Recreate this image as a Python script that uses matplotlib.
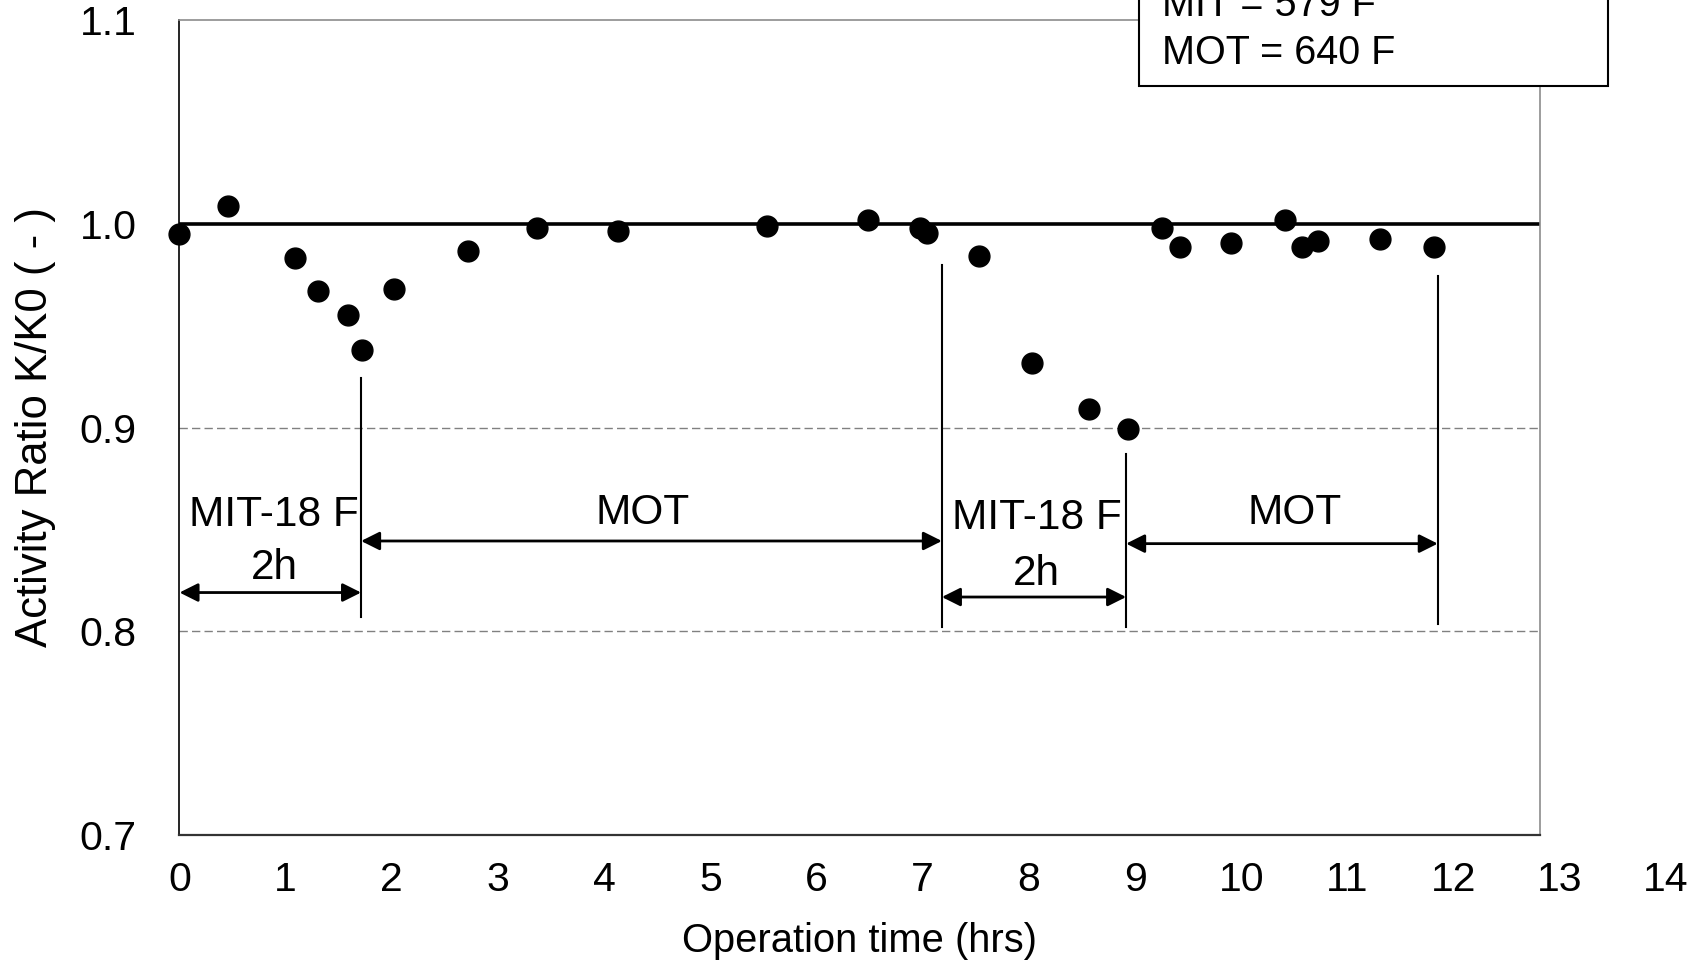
import matplotlib.pyplot as plt
from matplotlib.patches import Rectangle

plt.rcParams.update(
    {
        "font.family": "Liberation Sans",
        "font.size": 29.5,
    }
)

# Measured activity ratio vs. operation time
time_hrs = [0.0, 0.46, 1.09, 1.30, 1.59, 1.72, 2.02, 2.72, 3.37, 4.13, 5.53,
            6.48, 6.97, 7.04, 7.53, 8.03, 8.57, 8.935, 9.255, 9.42, 9.90,
            10.41, 10.57, 10.72, 11.31, 11.81]
activity = [0.995, 1.0087, 0.9833, 0.967, 0.955, 0.938, 0.968, 0.9866, 0.9977,
            0.9966, 0.9987, 1.0018, 0.9977, 0.9954, 0.9843, 0.9317, 0.9093,
            0.8994, 0.9977, 0.9884, 0.9905, 1.0018, 0.9884, 0.9915, 0.9925,
            0.9884]

# Phase boundaries (x, y_top, y_bottom)
bound_x = [1.71, 7.18, 8.915, 11.85]
bound_top = [0.9245, 0.9798, 0.8871, 0.9745]
bound_bottom = [0.807, 0.8021, 0.802, 0.8034]

# Phase spans: (start, end, arrow y, label, label y)
span_start = [0.0, 1.71, 7.18, 8.915]
span_end = [1.71, 7.18, 8.915, 11.85]
span_arrow_y = [0.819, 0.8443, 0.8168, 0.843]
span_label = ["MIT-18 F", "MOT", "MIT-18 F", "MOT"]
span_label_x = [0.89, 4.36, 8.07, 10.50]
span_label_y = [0.857, 0.858, 0.8556, 0.858]
dur_label_x = [0.89, 8.07]
dur_label_y = [0.8308, 0.8283]

x_ticks = list(range(0, 15))
y_ticks = [0.7, 0.8, 0.9, 1.0, 1.1]
y_ticklabels = ["0.7", "0.8", "0.9", "1.0", "1.1"]
conditions = ["MIT = 579 F", "MOT = 640 F"]

W, H = 1706, 963
fig = plt.figure(figsize=(W / 100, H / 100), dpi=100)
ax = fig.add_axes([179.5 / W, 1 - 835 / H, (1539.7 - 179.5) / W, (835 - 20) / H])

ax.set_xlim(0, 12.81)
ax.set_ylim(0.7, 1.1)

# frame
ax.spines["left"].set_color("black")
ax.spines["left"].set_linewidth(1.2)
ax.spines["bottom"].set_color("#333333")
ax.spines["bottom"].set_linewidth(1.6)
for s in ("top", "right"):
    ax.spines[s].set_color("#8c8c8c")
    ax.spines[s].set_linewidth(1.2)

ax.set_yticks(y_ticks)
ax.set_yticklabels(y_ticklabels)
ax.set_xticks([])
ax.tick_params(axis="y", length=0, pad=31)

# dashed reference levels
for yv in (0.8, 0.9):
    ax.axhline(yv, color="#808080", lw=1.0, dashes=(6, 3), zorder=1)

# x tick labels run past the plot area out to 14
xtrans = ax.get_xaxis_transform()
for xv in x_ticks:
    ax.text(xv, -0.055, str(xv), transform=xtrans, ha="center", va="center",
            clip_on=False)

ax.set_xlabel("Operation time (hrs)", fontsize=28.7, labelpad=63)
ax.set_ylabel("Activity Ratio K/K0 ( - )", fontsize=31.5, labelpad=17)

# reference line K/K0 = 1
ax.axhline(1.0, color="black", lw=2.6, zorder=2)

ax.plot(time_hrs, activity, "o", color="black", markersize=15, zorder=4,
        clip_on=False)

for xb, yt, yb in zip(bound_x, bound_top, bound_bottom):
    ax.plot([xb, xb], [yb, yt], color="black", lw=1.5, zorder=3)

for x0, x1, ya in zip(span_start, span_end, span_arrow_y):
    ax.annotate("", xy=(x1, ya), xytext=(x0, ya),
                arrowprops=dict(arrowstyle="<|-|>", color="black", lw=2.0,
                                mutation_scale=28, shrinkA=0, shrinkB=0))

for lx, ly, txt in zip(span_label_x, span_label_y, span_label):
    ax.text(lx, ly, txt, ha="center", va="center", fontsize=30.5, zorder=5)
for lx, ly in zip(dur_label_x, dur_label_y):
    ax.text(lx, ly, "2h", ha="center", va="center", fontsize=30.5, zorder=5)

# operating conditions box, top right
box = Rectangle((1139 / W, 1 - 86 / H), (1608 - 1139) / W, 120 / H,
                transform=fig.transFigure, facecolor="white",
                edgecolor="black", lw=1.5, zorder=10)
fig.add_artist(box)
for i, txt in enumerate(conditions):
    fig.text(1162 / W, 1 - (5 + 48 * i) / H, txt, ha="left", va="center",
             fontsize=28.5, zorder=11)

fig.savefig("out.png", dpi=100)
